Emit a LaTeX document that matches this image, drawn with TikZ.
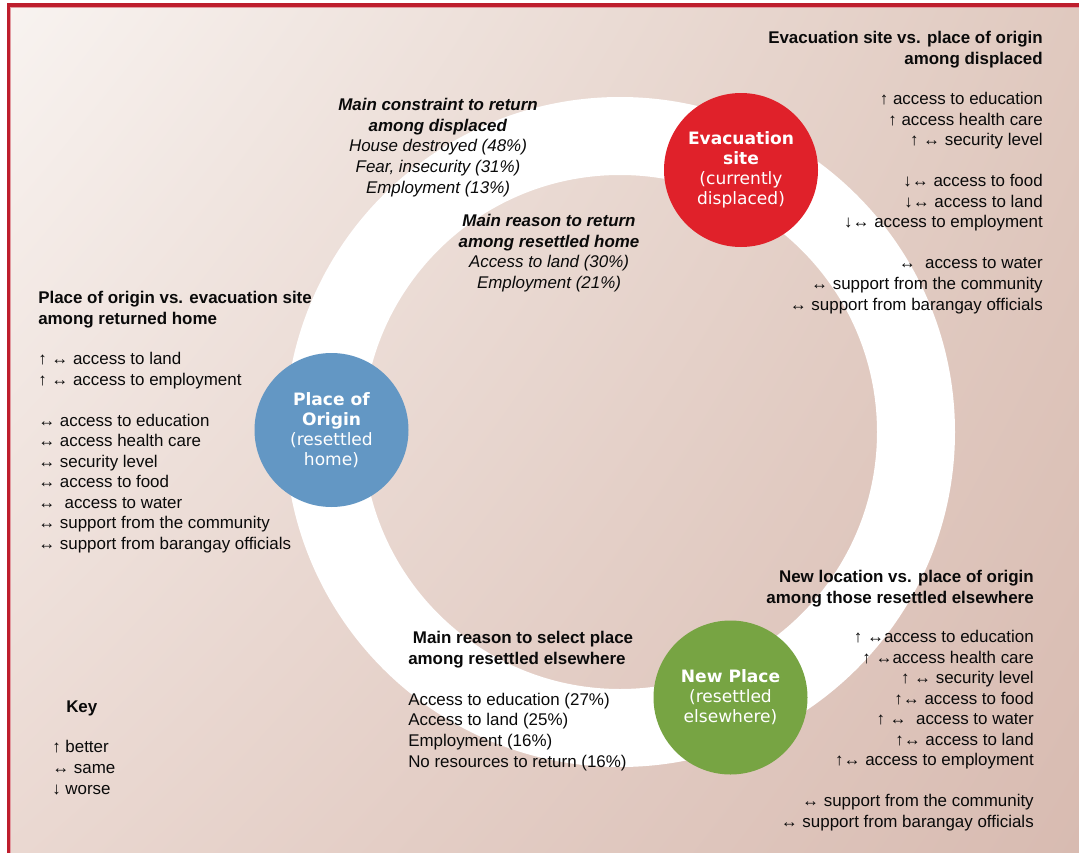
\documentclass[tikz,border=0pt]{standalone}
\usepackage{fontspec}
\setmainfont{Liberation Sans}
\newfontfamily\circfont{DejaVu Sans}
\usepackage{tikz}
\usetikzlibrary{positioning,shadings}
\definecolor{EvacRed}{HTML}{E0212A}
\definecolor{OriginBlue}{HTML}{6397C4}
\definecolor{NewGreen}{HTML}{77A443}
\definecolor{FrameRed}{HTML}{BE1E2D}
\definecolor{BgTL}{HTML}{F8F3F0}
\definecolor{BgTR}{HTML}{E0C9BF}
\definecolor{BgBL}{HTML}{EAD8D1}
\definecolor{BgBR}{HTML}{D8BBB1}
\definecolor{TextGrey}{HTML}{0A0A0A}

\begin{document}
\begin{tikzpicture}[
  x=0.75pt, y=-0.75pt,
  list/.style={inner sep=0pt, text=TextGrey, font=\fontsize{12.7}{15.4}\selectfont},
  listL/.style={list, align=left, anchor=base west},
  listR/.style={list, align=right, anchor=base east},
  listC/.style={list, align=center, anchor=base},
  headL/.style={listL, font=\fontsize{12.7}{15.4}\selectfont\bfseries},
  headR/.style={listR, font=\fontsize{12.7}{15.4}\selectfont\bfseries},
  place/.style={circle, minimum size=115.5pt, inner sep=0pt, align=center, text=white, font=\circfont\fontsize{12.8}{15}\selectfont}
]
  \useasboundingbox (0,0) rectangle (1079,853);
  \shade[upper left=BgTL, upper right=BgTR, lower left=BgBL, lower right=BgBR] (9,5) rectangle (1079,853);
  \draw[FrameRed, line width=2.7pt] (8.5,853) -- (8.5,5) -- (1079,5);
  \draw[FrameRed!45, line width=0.6pt] (10.6,853) -- (10.6,7.3) -- (1079,7.3);

  \fill[white, even odd rule] (620,432) circle[radius=251.25pt] (620,432) circle[radius=192.75pt];

  \node[place, fill=EvacRed] (evac) at (741,170) {\textbf{Evacuation}\\\textbf{site}\\(currently\\displaced)};
  \node[place, fill=OriginBlue] (origin) at (331.5,430) {\textbf{Place of}\\\textbf{Origin}\\(resettled\\home)};
  \node[place, fill=NewGreen] (newplace) at (730.5,697.5) {\textbf{New Place}\\(resettled\\elsewhere)};

  % base anchors sit on the last line of each block
  \node[headR] (evachead) at (1043,64) {Evacuation site vs. place of origin\\among displaced};
  \node[listR] (evaclist) at (1043,310) {↑ access to education\\↑ access health care\\↑ ↔ security level\\[15.4pt]↓↔ access to food\\↓↔ access to land\\↓↔ access to employment\\[15.4pt]↔~ access to water\\↔ support from the community\\↔ support from barangay officials};

  \node[headL] (originhead) at (38,324) {Place of origin vs. evacuation site\\among returned home};
  \node[listL] (originlist) at (38,549.5) {↑ ↔ access to land\\↑ ↔ access to employment\\[15.4pt]↔ access to education\\↔ access health care\\↔ security level\\↔ access to food\\↔~ access to water\\↔ support from the community\\↔ support from barangay officials};

  \node[listC] (constraint) at (438,193) {\textbf{\textit{Main constraint to return}}\\\textbf{\textit{among displaced}}\\\textit{House destroyed (48\%)}\\\textit{Fear, insecurity (31\%)}\\\textit{Employment (13\%)}};
  \node[listC] (reason) at (549,288.5) {\textbf{\textit{Main reason to return}}\\\textbf{\textit{among resettled home}}\\\textit{Access to land (30\%)}\\\textit{Employment (21\%)}};

  \node[headR] (newhead) at (1034,603) {New location vs. place of origin\\among those resettled elsewhere};
  \node[listR] (newlist) at (1034,827.5) {↑ ↔access to education\\↑ ↔access health care\\↑ ↔ security level\\↑↔ access to food\\↑ ↔~ access to water\\↑↔ access to land\\↑↔ access to employment\\[15.4pt]↔ support from the community\\↔ support from barangay officials};

  \node[headL] (selecthead) at (408,664) {\hspace{3.5pt}Main reason to select place\\among resettled elsewhere};
  \node[listL] (selectlist) at (408,767) {Access to education (27\%)\\Access to land (25\%)\\Employment (16\%)\\No resources to return (16\%)};

  \node[headL] (keyhead) at (66,712) {Key};
  \node[listL] (keylist) at (52,794) {↑ better\\↔ same\\↓ worse};
\end{tikzpicture}
\end{document}
